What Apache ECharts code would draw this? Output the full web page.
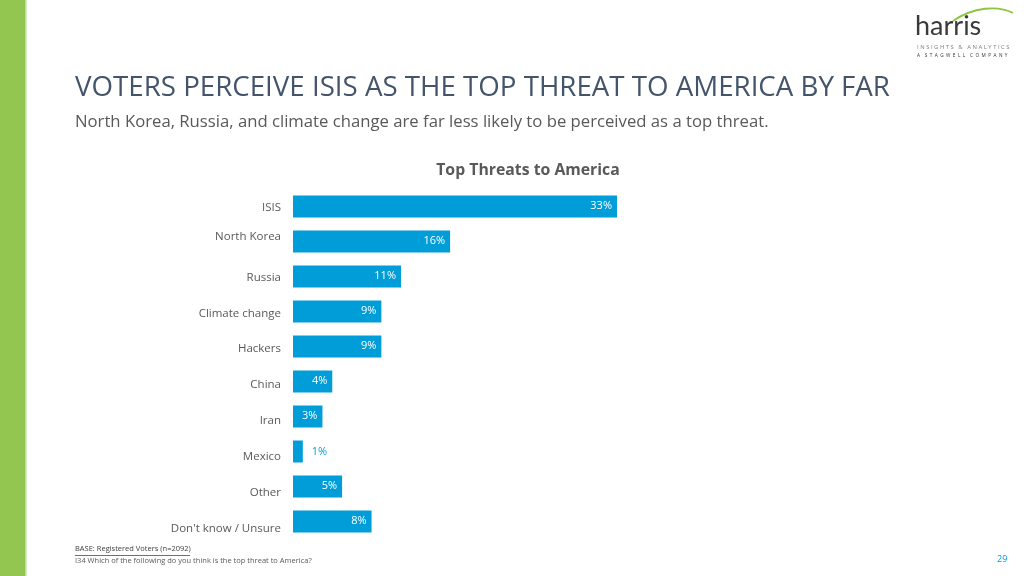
<!DOCTYPE html>
<html><head><meta charset="utf-8">
<script src="https://cdn.jsdelivr.net/npm/echarts@6/dist/echarts.min.js"></script>
<style>html,body{margin:0;padding:0;background:#fff}#c{width:1024px;height:576px}</style>
</head><body><div id="c"></div>
<script>
const categories = ["ISIS","North Korea","Russia","Climate change","Hackers","China","Iran","Mexico","Other","Don't know / Unsure"];
const values = [33,16,11,9,9,4,3,1,5,8];
const chartTitle = "Top Threats to America";
const title = "VOTERS PERCEIVE ISIS AS THE TOP THREAT TO AMERICA BY FAR";
const subtitle = "North Korea, Russia, and climate change are far less likely to be perceived as a top threat.";
const baseNote = "BASE: Registered Voters (n=2092)";
const questionNote = "I34 Which of the following do you think is the top threat to America?";
const pageNum = "29";

// vertical nudges (px) of the category labels, as laid out in the source slide
const labelShift = [1,-5,1,2,2,3,4,5,6,7];

const FONT = "Open Sans";
const chart = echarts.init(document.getElementById('c'), null, {renderer:'canvas'});
const barColor = '#009DD9';
const rich = {};
labelShift.forEach((s,i)=>{
  rich['r'+i] = {color:'#595959',fontSize:11.5,fontFamily:FONT,
    padding: s>=0 ? [2*s,0,0,0] : [0,0,-2*s,0]};
});
chart.setOption({
  animation:false,
  textStyle:{fontFamily:FONT},
  title:[
    {text:title,left:70,top:69,textStyle:{fontFamily:FONT,fontSize:27.7,fontWeight:'normal',color:'#44546A'}},
    {text:subtitle,left:70,top:109,textStyle:{fontFamily:FONT,fontSize:16.7,fontWeight:'normal',color:'#595959'}},
    {text:chartTitle,left:523,textAlign:'center',top:157,textStyle:{fontFamily:FONT,fontSize:15.8,fontWeight:'bold',color:'#595959'}}
  ],
  grid:{left:293,top:189,width:324,height:350,containLabel:false},
  xAxis:{type:'value',min:0,max:33,show:false},
  yAxis:{type:'category',data:categories,inverse:true,
    axisLine:{show:false},axisTick:{show:false},
    axisLabel:{color:'#595959',fontSize:11.5,margin:12,fontFamily:FONT,
      formatter:(v,i)=>'{r'+i+'|'+v+'}',rich:rich}},
  series:[{type:'bar',data:values.map(v=>({value:v,label:v<2?{position:'right',color:barColor,offset:[4,0]}:{}})),
    barWidth:22,itemStyle:{color:barColor},
    label:{show:true,position:'insideRight',color:'#fff',fontSize:11,fontFamily:FONT,offset:[0,-1],formatter:p=>p.value+'%'}}],
  graphic:[
    {type:'rect',shape:{x:0,y:0,width:25,height:576},style:{fill:'#92C650'}},
    {type:'rect',shape:{x:25,y:0,width:1.5,height:576},style:{fill:'#B9DD8F'}},
    {type:'text',left:915,top:13,style:{text:'harris',fontFamily:'Lato',fontSize:27,fill:'#3A3A3A'}},
    {type:'bezierCurve',shape:{x1:953,y1:21,x2:1013,y2:13,cpx1:973,cpy1:7,cpx2:998,cpy2:5},style:{stroke:'#8DC63F',lineWidth:1.8,fill:null}},
    {type:'text',left:917,top:44,style:{text:'I N S I G H T S   &   A N A L Y T I C S',fontFamily:FONT,fontSize:5.9,fill:'#7F7F7F'}},
    {type:'text',left:917,top:53,style:{text:'A    S  T  A  G  W  E  L  L    C  O  M  P  A  N  Y',fontFamily:FONT,fontSize:4.7,fill:'#333'}},
    {type:'text',left:75,top:545,style:{text:baseNote,fontFamily:FONT,fontSize:7.5,fill:'#404040'}},
    {type:'rect',shape:{x:75,y:555,width:115,height:0.8},style:{fill:'#404040'}},
    {type:'text',left:75,top:557,style:{text:questionNote,fontFamily:FONT,fontSize:7.5,fill:'#595959'}},
    {type:'text',left:997,top:555,style:{text:pageNum,fontFamily:FONT,fontSize:9,fill:'#0099D6'}}
  ]
});
</script></body></html>
